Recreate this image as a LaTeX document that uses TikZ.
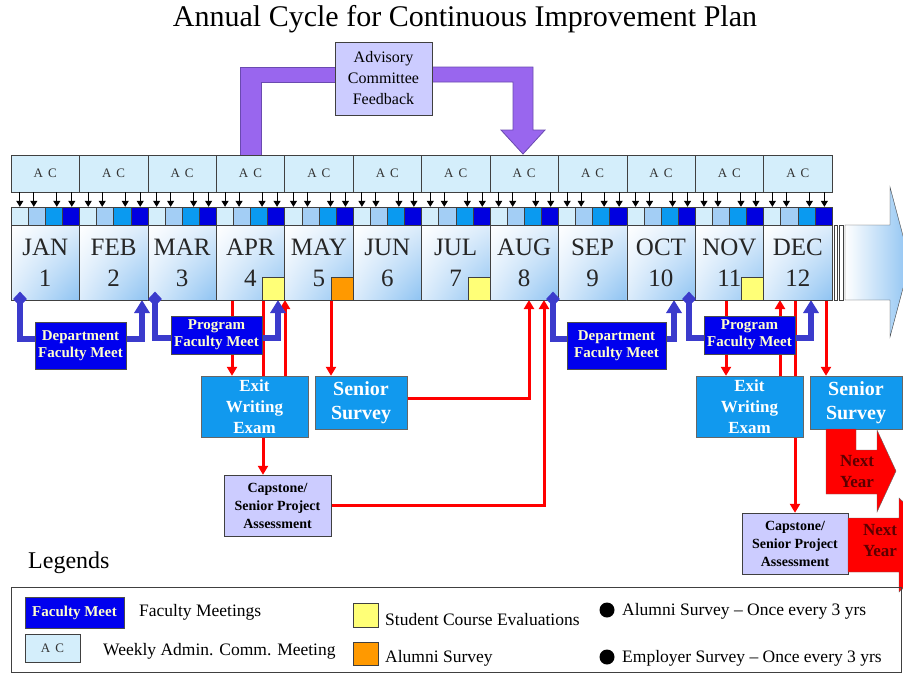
\documentclass[tikz,border=0pt]{standalone}
\usepackage{fontspec}
\setmainfont{Liberation Serif}
\usetikzlibrary{calc,arrows.meta,shapes.geometric,backgrounds,shadings}
\definecolor{acfill}{HTML}{D4EEFB}
\definecolor{sqa}{HTML}{D4EEFB}
\definecolor{sqb}{HTML}{A3CEF5}
\definecolor{sqc}{HTML}{0A9AF0}
\definecolor{sqd}{HTML}{0000E0}
\definecolor{mlight}{HTML}{DCECFB}
\definecolor{mblue}{HTML}{8EC3F2}
\definecolor{fmblue}{HTML}{0000EE}
\definecolor{fmtext}{HTML}{FFFFCC}
\definecolor{conn}{HTML}{3B3BCC}
\definecolor{exitblue}{HTML}{1199EE}
\definecolor{lav}{HTML}{CCCCFF}
\definecolor{purp}{HTML}{9966EE}
\definecolor{purpdark}{HTML}{6A4AB0}
\definecolor{yel}{HTML}{FFFF77}
\definecolor{ora}{HTML}{FF9900}
\definecolor{nytext}{HTML}{5C0000}
\definecolor{edge}{HTML}{404040}
\tikzset{
  acbox/.style={draw=edge, fill=acfill, minimum width=68.4167pt, minimum height=37pt, inner sep=0pt, font=\fontsize{13}{13}\selectfont, text=black!80},
  sqbox/.style={draw=edge, minimum width=17.104pt, minimum height=18pt, inner sep=0pt},
  monthbox/.style={draw=edge, minimum width=68.4167pt, minimum height=75pt, inner sep=0pt, align=center, upper left=white, upper right=mlight, lower left=mlight, lower right=mblue, font=\fontsize{25}{31}\selectfont, text=black!85},
  evalbox/.style={draw=edge, minimum width=22pt, minimum height=23pt, inner sep=0pt, anchor=south east},
  smallarr/.style={-{Triangle[length=6pt,width=7pt]}, line width=1pt, black},
  fmbox/.style={draw=black!70, fill=fmblue, text=fmtext, font=\bfseries\fontsize{15}{17}\selectfont, align=center, inner sep=0pt},
  bluebox/.style={draw=black!60, fill=exitblue, text=white, align=center, inner sep=0pt},
  lavbox/.style={draw=edge, fill=lav, align=center, inner sep=0pt},
  bluecon/.style={conn, line width=6pt},
  bluearr/.style={conn, line width=6pt, -{Triangle[length=13pt,width=15pt]}},
  dia/.style={diamond, fill=conn, minimum width=14pt, minimum height=15pt, inner sep=0pt},
  redarr/.style={red, line width=3pt, -{Triangle[length=9pt,width=10pt]}},
  nextyear/.style={fill=red, draw=black!60},
  nytxt/.style={font=\bfseries\fontsize{17}{21}\selectfont, text=nytext, align=center, inner sep=0pt},
  legtext/.style={anchor=west, font=\fontsize{17.5}{17.5}\selectfont, inner sep=0pt},
}
\begin{document}
\begin{tikzpicture}[x=1pt,y=-1pt]
\useasboundingbox (0,0) rectangle (903,673);
\clip (0,0) rectangle (903,673);
\node[font=\fontsize{30}{32}\selectfont] (title) at (465,19) {Annual Cycle for Continuous Improvement Plan};

% advisory committee feedback
\fill[purp, draw=purpdark, line width=0.8pt] (336,67) -- (240,67) -- (240,155) -- (261,155) -- (261,82) -- (336,82) -- cycle;
\fill[purp, draw=purpdark, line width=0.8pt] (431,67) -- (533,67) -- (533,130) -- (545,130) -- (523,154) -- (501,130) -- (513,130) -- (513,82) -- (431,82) -- cycle;
\node[lavbox, minimum width=97pt, minimum height=73pt, font=\fontsize{16}{21}\selectfont] (adv) at (383.5,78.5) {Advisory\\Committee\\Feedback};

% months
\foreach \i/\mn in {1/JAN,2/FEB,3/MAR,4/APR,5/MAY,6/JUN,7/JUL,8/AUG,9/SEP,10/OCT,11/NOV,12/DEC}{
  \pgfmathsetmacro\xl{11+(\i-1)*68.4167}
  \node[acbox] (ac\i) at (\xl+34.2083,173.5) {A\hspace{5pt}C};
  \foreach \k/\c in {1/sqa,2/sqb,3/sqc,4/sqd}{
    \node[sqbox, fill=\c] (sq\i-\k) at (\xl+\k*17.104-8.552,216) {};
  }
  \node[monthbox] (m\i) at (\xl+34.2083,262.5) {\mn\\\i};
  \foreach \o in {9,23,46,61}{
    \draw[smallarr] ($(ac\i.south west)+(\o,0)$) -- ($(m\i.north west)+(\o,-18)$);
  }
}
\node[evalbox, fill=yel] (e4) at (m4.south east) {};
\node[evalbox, fill=ora] (e5) at (m5.south east) {};
\node[evalbox, fill=yel] (e7) at (m7.south east) {};
\node[evalbox, fill=yel] (e11) at (m11.south east) {};

% next-year bars and big arrow
\draw[edge, fill=white] (834,225) rectangle (837.5,300);
\draw[edge, fill=white] (839.5,225) rectangle (843,300);
\shade[left color=white, right color=mblue, draw=edge] (845,225) -- (890,225) -- (890,187) -- (910,262) -- (890,337) -- (890,300) -- (845,300) -- cycle;

% lower boxes
\node[fmbox, minimum width=91pt, minimum height=47pt] (dfm1) at (80.5,345.5) {Department\\Faculty Meet};
\node[fmbox, minimum width=91pt, minimum height=38pt] (pfm1) at (216.5,335) {Program\\Faculty Meet};
\node[fmbox, minimum width=99pt, minimum height=47pt] (dfm2) at (616.5,345.5) {Department\\Faculty Meet};
\node[fmbox, minimum width=91pt, minimum height=38pt] (pfm2) at (749.5,335) {Program\\Faculty Meet};
\node[bluebox, minimum width=107pt, minimum height=61pt, font=\bfseries\fontsize{17}{21}\selectfont] (exit1) at (254.5,406.5) {Exit\\Writing\\Exam};
\node[bluebox, minimum width=92pt, minimum height=53pt, font=\bfseries\fontsize{20}{24}\selectfont] (ss1) at (361,402.5) {Senior\\Survey};
\node[lavbox, minimum width=107pt, minimum height=61pt, font=\bfseries\fontsize{14}{18}\selectfont] (cap1) at (277.5,505.5) {Capstone/\\Senior Project\\Assessment};
\node[bluebox, minimum width=107pt, minimum height=61pt, font=\bfseries\fontsize{17}{21}\selectfont] (exit2) at (749.5,406.5) {Exit\\Writing\\Exam};
\node[bluebox, minimum width=92pt, minimum height=53pt, font=\bfseries\fontsize{20}{24}\selectfont] (ss2) at (856,402.5) {Senior\\Survey};
\node[lavbox, minimum width=106pt, minimum height=61pt, font=\bfseries\fontsize{14}{18}\selectfont] (cap2) at (795,543.5) {Capstone/\\Senior Project\\Assessment};

% connector anchors
\coordinate (r1) at (232,300);
\coordinate (r2) at (263,300);
\coordinate (r3) at (285,300);
\coordinate (r4) at (331,300);
\coordinate (r5) at (529,300);
\coordinate (r6) at (544,300);
\coordinate (r7) at (726,300);
\coordinate (r8) at (780,300);
\coordinate (r9) at (795,300);
\coordinate (r10) at (826,300);
\coordinate (u1) at (142,300);
\coordinate (u2) at (278,300);
\coordinate (u3) at (674,300);
\coordinate (u4) at (811,300);

\begin{scope}[on background layer]
  \draw[redarr] (r1) -- (r1 |- exit1.north);
  \draw[redarr] (r2) -- (r2 |- cap1.north);
  \draw[redarr] (r3 |- exit1.north) -- (r3);
  \draw[redarr] (r4) -- (r4 |- ss1.north);
  \draw[redarr] ([yshift=4pt]ss1.east) -| (r5);
  \draw[redarr] (cap1.east) -| (r6);
  \draw[redarr] (r7) -- (r7 |- exit2.north);
  \draw[redarr] (r8 |- exit2.north) -- (r8);
  \draw[redarr] (r9) -- (r9 |- cap2.north);
  \draw[redarr] (r10) -- (r10 |- ss2.north);
\end{scope}

% faculty meeting connectors
\node[dia] (d1) at (20,299) {};
\node[dia] (d2) at (155,299) {};
\node[dia] (d3) at (553,299) {};
\node[dia] (d4) at (689,299) {};
\begin{scope}[on background layer]
  \draw[bluecon] (d1.center) |- ([yshift=7pt]dfm1.west);
  \draw[bluearr] ([yshift=7pt]dfm1.east) -| (u1);
  \draw[bluecon] (d2.center) |- ([yshift=-3pt]pfm1.west);
  \draw[bluearr] ([yshift=-3pt]pfm1.east) -| (u2);
  \draw[bluecon] (d3.center) |- ([yshift=7pt]dfm2.west);
  \draw[bluearr] ([yshift=7pt]dfm2.east) -| (u3);
  \draw[bluecon] (d4.center) |- ([yshift=-3pt]pfm2.west);
  \draw[bluearr] ([yshift=-3pt]pfm2.east) -| (u4);
\end{scope}

% next year arrows
\fill[nextyear] (826,429) -- (856,429) -- (856,450) -- (877,450) -- (877,430) -- (896,471) -- (877,512) -- (877,494) -- (826,494) -- cycle;
\node[nytxt] (ny1) at (857,472) {Next\\Year};
\fill[nextyear] (848,518) -- (899,518) -- (899,498) -- (950,545) -- (899,592) -- (899,572) -- (848,572) -- cycle;
\node[nytxt] (ny2) at (880,541) {Next\\Year};

% legend
\node[anchor=west, font=\fontsize{24}{24}\selectfont, inner sep=0pt] (leg) at (28,563) {Legends};
\draw[edge] (11,587) rectangle (901,672);
\node[fmbox, minimum width=99pt, minimum height=31pt] (lfm) at (74.5,612.5) {Faculty Meet};
\node[legtext] (t1) at (139,612) {Faculty Meetings};
\node[acbox, minimum width=55pt, minimum height=28pt] (lac) at (52.5,648) {A\hspace{5pt}C};
\node[legtext] (t2) at (103,651) {Weekly Admin. Comm. Meeting};
\node[draw=edge, fill=yel, minimum width=25pt, minimum height=24pt, inner sep=0pt] (lyel) at (365.5,615) {};
\node[legtext] (t3) at (385,620) {Student Course Evaluations};
\node[draw=edge, fill=ora, minimum width=25pt, minimum height=23pt, inner sep=0pt] (lora) at (365.5,653.5) {};
\node[legtext] (t4) at (385,658) {Alumni Survey};
\node[circle, fill=black, minimum size=15pt, inner sep=0pt] (b1) at (607,610) {};
\node[legtext] (t5) at (622,611) {Alumni Survey -- Once every 3 yrs};
\node[circle, fill=black, minimum size=15pt, inner sep=0pt] (b2) at (607,657) {};
\node[legtext] (t6) at (622,658) {Employer Survey -- Once every 3 yrs};
\end{tikzpicture}
\end{document}
